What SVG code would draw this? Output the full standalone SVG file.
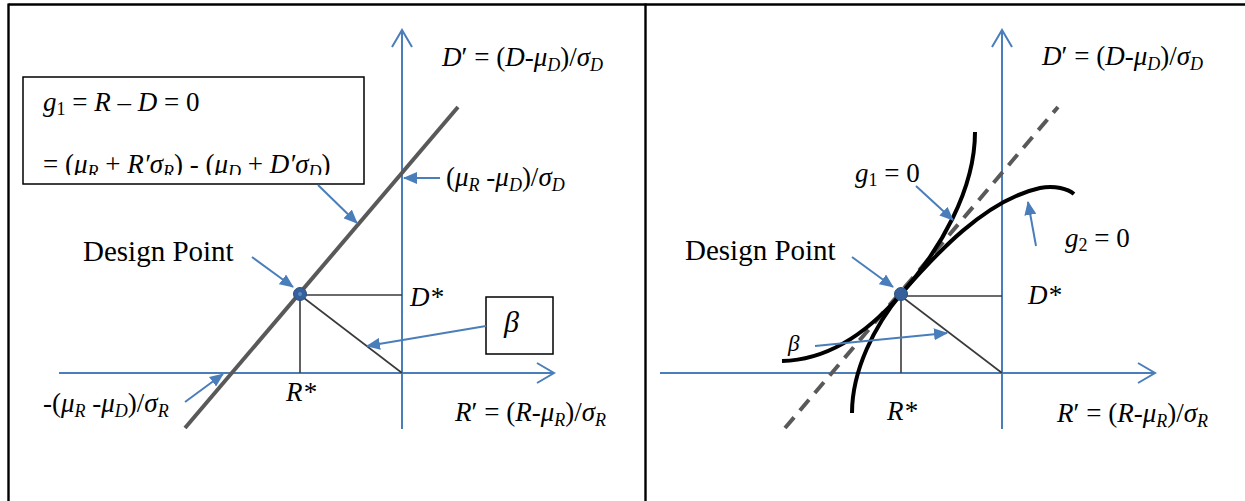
<svg xmlns="http://www.w3.org/2000/svg" width="1245" height="501" viewBox="0 0 1245 501">
<style>
text{font-family:"Liberation Serif","Times New Roman",serif;fill:#000;font-size:27px}
.i{font-style:italic}
.s{font-size:18px;font-style:italic}
.s1{font-size:18px}
.axis{stroke:#4a7ebb;stroke-width:2;fill:none}
.chev{stroke:#4a7ebb;stroke-width:2;fill:none}
.thin{stroke:#3a3a3a;stroke-width:1.6;fill:none}
.lim{stroke:#595959;stroke-width:4;fill:none}
.dash{stroke:#595959;stroke-width:4;fill:none;stroke-dasharray:14 9}
.curve{stroke:#000;stroke-width:4;fill:none}
.ptr{stroke:#4a7ebb;stroke-width:2;fill:none;marker-end:url(#ah)}
.frame{stroke:#000;stroke-width:2.4;fill:none}
.box{stroke:#000;stroke-width:1.5;fill:#fff}
</style>
<defs>
<marker id="ah" viewBox="0 0 14 12" refX="13" refY="6" markerWidth="14" markerHeight="12" markerUnits="userSpaceOnUse" orient="auto">
<path d="M0,0 L14,6 L0,12 z" fill="#4a7ebb"/>
</marker>
<clipPath id="boxclip"><rect x="23" y="77" width="341" height="98"/></clipPath>
</defs>

<g id="frame">
<line class="frame" x1="8.5" y1="4.5" x2="1245" y2="4.5"/>
<line class="frame" x1="8.5" y1="3.5" x2="8.5" y2="501"/>
<line class="frame" x1="645.5" y1="3.5" x2="645.5" y2="501"/>
</g>

<!-- LEFT PANEL -->
<g id="left-axes">
<line class="axis" x1="402" y1="30" x2="402" y2="429"/>
<polyline class="chev" points="392,47 402,30 412,47"/>
<line class="axis" x1="59" y1="373" x2="553" y2="373"/>
<polyline class="chev" points="537,363 554,373 537,383"/>
</g>

<g id="left-limit-line">
<line class="lim" x1="185" y1="428" x2="458" y2="107"/>
</g>

<g id="left-construction">
<line class="thin" x1="300" y1="295" x2="402" y2="295"/>
<line class="thin" x1="300" y1="295" x2="300" y2="373"/>
<line class="thin" x1="300" y1="295" x2="402" y2="373"/>
</g>

<g id="left-design-point">
<circle cx="300" cy="294" r="6.5" fill="#35609a" stroke="#2c5283" stroke-width="1"/>
<circle cx="300" cy="294" r="2" fill="#5a8cc8"/>
</g>

<g id="left-eq-box">
<rect class="box" x="23" y="77" width="341" height="107"/>
<g clip-path="url(#boxclip)">
<text x="43" y="111"><tspan class="i">g</tspan><tspan class="s1" dy="4">1</tspan><tspan dy="-4"> = </tspan><tspan class="i">R</tspan> – <tspan class="i">D</tspan> = 0</text>
<text x="43" y="173">= (<tspan class="i">μ</tspan><tspan class="s" dy="5">R</tspan><tspan dy="-5"> + </tspan><tspan class="i">R′σ</tspan><tspan class="s" dy="5">R</tspan><tspan dy="-5">) - (</tspan><tspan class="i">μ</tspan><tspan class="s" dy="5">D</tspan><tspan dy="-5"> + </tspan><tspan class="i">D′σ</tspan><tspan class="s" dy="5">D</tspan><tspan dy="-5">)</tspan></text>
</g>
</g>

<g id="left-beta-box">
<rect class="box" x="486" y="297" width="67" height="57"/>
<text x="504" y="332" class="i" style="font-size:30px">β</text>
</g>

<g id="left-labels">
<text x="442" y="66"><tspan class="i">D</tspan>′ = (<tspan class="i">D</tspan>-<tspan class="i">μ</tspan><tspan class="s" dy="5">D</tspan><tspan dy="-5">)/</tspan><tspan class="i">σ</tspan><tspan class="s" dy="5">D</tspan></text>
<text x="446" y="186">(<tspan class="i">μ</tspan><tspan class="s" dy="5">R</tspan><tspan dy="-5"> -</tspan><tspan class="i">μ</tspan><tspan class="s" dy="5">D</tspan><tspan dy="-5">)/</tspan><tspan class="i">σ</tspan><tspan class="s" dy="5">D</tspan></text>
<text x="43" y="412">-(<tspan class="i">μ</tspan><tspan class="s" dy="5">R</tspan><tspan dy="-5"> -</tspan><tspan class="i">μ</tspan><tspan class="s" dy="5">D</tspan><tspan dy="-5">)/</tspan><tspan class="i">σ</tspan><tspan class="s" dy="5">R</tspan></text>
<text x="455" y="421"><tspan class="i">R</tspan>′ = (<tspan class="i">R</tspan>-<tspan class="i">μ</tspan><tspan class="s" dy="5">R</tspan><tspan dy="-5">)/</tspan><tspan class="i">σ</tspan><tspan class="s" dy="5">R</tspan></text>
<text x="410" y="306" class="i">D*</text>
<text x="286" y="401" class="i">R*</text>
<text x="83" y="261" style="font-size:29px">Design Point</text>
</g>

<g id="left-connectors">
<line class="ptr" x1="318" y1="185" x2="357" y2="223"/>
<line class="ptr" x1="440" y1="178" x2="404" y2="178"/>
<line class="ptr" x1="252" y1="257" x2="293" y2="287"/>
<line class="ptr" x1="486" y1="326" x2="367" y2="346"/>
<line class="ptr" x1="185" y1="402" x2="223" y2="374"/>
</g>

<!-- RIGHT PANEL -->
<g id="right-axes">
<line class="axis" x1="1002" y1="30" x2="1002" y2="429"/>
<polyline class="chev" points="992,47 1002,30 1012,47"/>
<line class="axis" x1="660" y1="373" x2="1154" y2="373"/>
<polyline class="chev" points="1138,363 1155,373 1138,383"/>
</g>

<g id="right-construction">
<line class="thin" x1="901" y1="296" x2="1002" y2="296"/>
<line class="thin" x1="901" y1="296" x2="901" y2="373"/>
<line class="thin" x1="901" y1="296" x2="1002" y2="373"/>
</g>

<g id="right-tangent">
<line class="dash" x1="785" y1="428" x2="1058" y2="107"/>
</g>

<g id="g1-curve">
<path class="curve" d="M852,413 C852,370 875,325 901,294 C940,250 975,190 975,132"/>
</g>
<g id="g2-curve">
<path class="curve" d="M782,361 C830,360 870,330 901,294 C935,255 985,200 1040,188 C1055,185 1068,189 1074,194"/>
</g>

<g id="right-design-point">
<circle cx="901" cy="294" r="6.5" fill="#35609a" stroke="#2c5283" stroke-width="1"/>
</g>

<g id="right-labels">
<text x="1042" y="65"><tspan class="i">D</tspan>′ = (<tspan class="i">D</tspan>-<tspan class="i">μ</tspan><tspan class="s" dy="5">D</tspan><tspan dy="-5">)/</tspan><tspan class="i">σ</tspan><tspan class="s" dy="5">D</tspan></text>
<text x="1057" y="422"><tspan class="i">R</tspan>′ = (<tspan class="i">R</tspan>-<tspan class="i">μ</tspan><tspan class="s" dy="5">R</tspan><tspan dy="-5">)/</tspan><tspan class="i">σ</tspan><tspan class="s" dy="5">R</tspan></text>
<text x="855" y="182"><tspan class="i">g</tspan><tspan class="s1" dy="4">1</tspan><tspan dy="-4"> = 0</tspan></text>
<text x="1065" y="247"><tspan class="i">g</tspan><tspan class="s1" dy="4">2</tspan><tspan dy="-4"> = 0</tspan></text>
<text x="1028" y="304" class="i">D*</text>
<text x="887" y="420" class="i">R*</text>
<text x="788" y="351" class="i" style="font-size:23px">β</text>
<text x="685" y="260" style="font-size:29px">Design Point</text>
</g>

<g id="right-connectors">
<line class="ptr" x1="916" y1="186" x2="953" y2="220"/>
<line class="ptr" x1="1036" y1="246" x2="1028" y2="202"/>
<line class="ptr" x1="852" y1="257" x2="893" y2="287"/>
<line class="ptr" x1="815" y1="346" x2="947" y2="333"/>
</g>
</svg>
